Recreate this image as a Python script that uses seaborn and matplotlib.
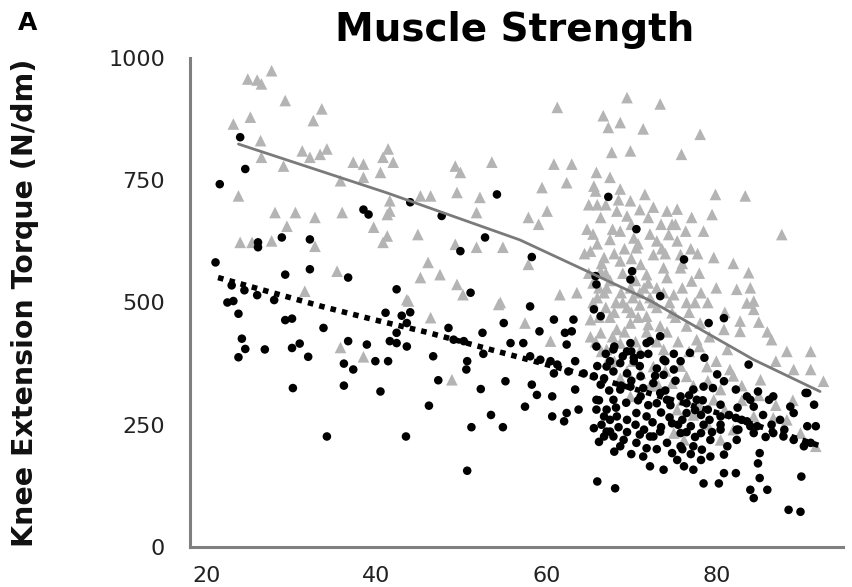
import matplotlib
matplotlib.use("Agg")
import matplotlib.pyplot as plt
import seaborn as sns
import pandas as pd

# ---------------- data ----------------
men_age = [
    27.7, 24.9, 26.0, 26.5, 29.3, 33.6, 32.6, 25.2, 23.2, 26.4, 26.5, 29.1, 31.3, 32.2, 33.4, 34.2,
    37.3, 38.5, 41.4, 40.8, 42.0, 40.5, 38.5, 35.8, 49.3, 49.9, 53.6, 23.8, 41.6, 41.6, 41.3, 45.2,
    46.4, 49.5, 52.2, 28.1, 30.5, 32.8, 36.0, 29.5, 39.7, 41.3, 40.8, 44.9, 51.8, 24.0, 25.4, 27.7,
    32.8, 49.3, 51.8, 54.9, 46.1, 45.2, 47.5, 49.5, 35.4, 31.6, 43.6, 50.2, 54.6,
    35.8, 38.5, 46.4, 48.9, 54.4, 43.8,
    61.3, 69.5, 73.4, 66.7, 68.7, 67.3, 71.4, 78.1, 67.7, 69.9, 75.9, 60.9, 63.0, 62.4, 59.5, 65.9,
    67.5, 65.6, 65.8, 68.7, 71.6, 69.9, 79.9, 83.4, 60.1, 57.9, 59.1, 66.4, 68.3, 69.5, 72.0, 72.6,
    74.2, 75.4, 77.1, 79.5, 75.2, 78.5, 76.4, 74.4, 68.7, 70.3, 67.5, 73.0, 75.4, 87.7, 65.2, 70.6,
    72.6, 75.8, 79.7, 66.8, 68.7, 71.1, 73.8, 75.8, 66.4, 71.8, 74.2, 83.8, 77.1, 82.4, 84.0, 61.6,
    63.6, 67.1, 69.9, 73.0, 75.0, 57.9, 84.4,
    83.6, 84.4, 82.8, 82.8, 86.5, 88.3, 91.1, 91.1, 92.6, 89.1, 85.2, 81.6, 60.5, 57.5, 66.4, 68.3,
    69.9, 71.8, 73.4, 74.8, 76.5, 77.7, 67.1, 68.7, 71.1, 72.6, 68.7, 69.9, 74.8, 76.5, 75.4, 77.3,
    79.7, 80.5, 75.0, 76.2, 80.5, 84.4, 86.7, 88.3, 91.7, 78.1, 80.9, 65.2, 73.8, 78.9, 81.3, 89.9,
    65.5, 66.0, 66.5, 67.0, 67.5, 68.0, 69.0, 70.0, 70.5, 71.0, 72.0, 72.5, 69.0, 67.0, 66.0, 68.0,
    70.0, 71.0, 72.0, 65.5, 66.0, 67.0, 68.5, 70.0, 71.0, 73.5, 74.0, 76.0, 77.0, 78.0, 76.5, 79.0,
    80.0, 81.0, 82.0, 85.0, 86.0, 87.0, 65.8, 67.2, 70.2, 73.2, 76.0, 78.0, 81.0, 83.0, 85.0, 87.0,
    89.0, 82.0, 79.0,
    64.5, 65.0, 65.5, 66.2, 66.8, 67.5, 68.2, 68.8, 69.5, 70.2, 70.8, 71.5, 72.2, 73.0, 73.8, 74.5,
    75.2, 76.0, 76.8, 77.5, 78.2, 65.2, 66.5, 67.8, 69.2, 70.5, 71.8, 73.0, 74.2, 75.5, 76.8, 78.0,
    79.2, 68.0, 69.5, 71.0, 72.2, 74.0, 75.8, 77.3, 79.0, 80.0, 82.0, 83.0, 70.8, 72.2, 73.6, 67.8,
    69.2, 74.8, 77.8, 64.8, 65.0, 66.2,
]
men_torque = [
    974, 957, 955, 947, 913, 896, 872, 879, 865, 831, 797, 779, 810, 797, 803, 814,
    787, 783, 814, 797, 787, 766, 756, 749, 779, 766, 787, 718, 708, 687, 680, 718,
    718, 725, 715, 684, 684, 674, 684, 656, 654, 636, 623, 639, 684, 623, 623, 626,
    615, 619, 613, 613, 582, 551, 557, 537, 564, 523, 506, 516, 500,
    408, 389, 469, 342, 496, 503,
    899, 919, 906, 882, 868, 858, 855, 844, 807, 810, 803, 783, 783, 745, 735, 766,
    756, 738, 728, 732, 721, 708, 721, 718, 687, 674, 660, 674, 687, 677, 674, 695,
    687, 691, 674, 680, 660, 646, 646, 639, 646, 632, 629, 626, 626, 639, 605, 612,
    598, 598, 592, 592, 585, 578, 571, 571, 564, 557, 551, 561, 544, 527, 530, 516,
    520, 530, 530, 530, 516, 578, 503,
    499, 486, 462, 441, 424, 400, 400, 363, 339, 363, 342, 363, 421, 458, 438, 445,
    458, 472, 452, 479, 452, 424, 404, 417, 355, 369, 345, 308, 335, 349, 281, 270,
    301, 322, 233, 219, 219, 267, 264, 260, 206, 458, 445, 465, 404, 369, 404, 233,
    640, 620, 580, 560, 545, 600, 560, 590, 545, 520, 540, 500, 500, 490, 510, 480,
    480, 495, 455, 540, 700, 700, 710, 660, 690, 660, 600, 580, 610, 560, 500, 500,
    530, 480, 580, 460, 440, 380, 420, 380, 380, 330, 300, 290, 280, 300, 310, 290,
    300, 240, 250,
    600, 560, 500, 470, 520, 470, 500, 520, 490, 510, 470, 530, 510, 490, 520, 500,
    470, 530, 480, 500, 520, 430, 400, 430, 440, 420, 440, 420, 440, 420, 400, 410,
    430, 380, 360, 400, 330, 360, 370, 330, 340, 380, 350, 330, 620, 640, 610, 650,
    610, 660, 600, 650, 700, 530,
]

women_age = [
    24.0, 24.6, 21.6, 38.5, 39.1, 44.0, 47.7, 54.2, 52.8, 49.9, 28.9, 26.1, 26.1, 32.2, 21.1, 29.3,
    32.2, 36.7, 42.4, 51.1, 23.0, 24.5, 26.0, 28.0, 22.5,
    23.8, 24.2, 24.6, 23.8, 26.9, 29.3, 30.1, 30.1, 31.0, 32.0, 33.8, 30.2, 34.2, 36.7, 36.2, 37.3,
    36.2, 38.9, 39.9, 41.4, 40.5, 41.1, 43.0, 44.0, 43.6, 42.4, 41.6, 42.4, 43.6, 43.5, 46.7, 47.3,
    46.2, 48.5, 49.1, 50.3, 50.7, 50.6, 52.3, 50.7, 51.2, 53.5, 54.9, 55.2, 52.5, 52.6, 55.0, 55.8,
    23.2,
    67.3, 58.3, 70.6, 65.8, 65.9, 70.1, 69.9, 73.4, 76.2,
    58.1, 60.9, 63.2, 59.2, 62.2, 63.0, 57.3, 62.4, 58.1, 59.3, 60.5, 61.3, 62.6, 63.4, 64.4, 60.9,
    58.3, 58.9, 60.7, 57.5, 60.7, 62.1, 62.4, 63.8, 63.4, 66.0, 68.1, 65.6,
    65.6, 66.4, 67.1, 67.9, 68.7, 69.5, 70.3, 71.8, 69.9, 65.9, 67.9, 65.9, 67.1, 65.9, 67.9, 68.7,
    69.9, 71.1, 71.1, 72.6, 73.4, 74.2, 73.0, 66.8, 68.3, 69.5, 70.6, 71.8, 67.1, 67.9, 69.1, 68.7,
    70.6, 71.8, 72.6, 73.4, 74.2, 71.4, 72.2, 73.8, 75.4, 76.2, 77.3, 78.5, 80.3, 75.8, 77.3, 78.3,
    79.3, 80.9, 80.9, 74.8, 75.8, 77.0, 78.2, 79.3, 76.5, 78.2, 79.0, 80.5, 80.5, 82.4, 75.8, 76.5,
    77.3, 78.5, 77.7, 80.5, 82.3, 82.4, 83.6, 84.0, 84.4, 84.8, 86.7, 87.9, 89.1, 90.3, 91.1, 90.7,
    91.7, 91.5, 90.5, 88.7, 89.1, 86.7, 86.2, 84.0, 84.4, 83.6, 82.3, 80.9, 80.1, 79.6, 83.8, 84.9,
    85.1, 84.9, 85.1, 84.0, 86.0, 84.4, 88.5, 89.9, 90.0, 82.3, 80.9, 79.1, 76.9, 78.6, 75.8, 75.0,
    73.8, 73.8, 72.2, 71.1, 70.3, 67.5, 65.6, 66.4, 73.4, 69.5, 67.5, 66.8, 72.2, 74.8, 78.2, 82.6,
    81.3, 90.7,
    66.2, 66.8, 67.4, 68.2, 68.8, 69.4, 70.0, 70.8, 71.4, 72.0, 72.8, 73.5, 74.0, 74.6, 75.2, 76.0,
    76.8, 77.5, 78.4, 79.2, 66.0, 67.0, 68.0, 69.0, 70.0, 71.0, 72.0, 73.0, 74.0, 75.0, 66.5, 67.5,
    68.5, 69.5, 70.5, 71.5, 72.5, 73.5, 74.5, 75.5, 76.5, 77.5, 78.5, 79.5, 80.5, 81.5, 82.5, 83.0,
    85.5, 86.5, 87.5, 88.0, 85.8, 66.2, 68.0, 70.0, 71.0, 73.0, 76.0, 77.0,
]
women_torque = [
    838, 773, 742, 690, 680, 705, 677, 721, 633, 605, 633, 623, 613, 629, 582, 557,
    568, 551, 527, 520, 535, 525, 515, 505, 500,
    477, 426, 405, 388, 404, 464, 467, 407, 416, 389, 448, 325, 226, 421, 375, 363,
    330, 414, 380, 380, 318, 479, 473, 480, 458, 438, 421, 417, 410, 226, 390, 341,
    289, 448, 424, 421, 380, 363, 323, 156, 245, 270, 245, 339, 438, 395, 458, 417,
    503,
    716, 593, 650, 554, 537, 564, 547, 513, 588,
    492, 465, 465, 441, 438, 441, 417, 414, 390, 383, 380, 373, 359, 380, 355, 355,
    332, 311, 308, 287, 267, 257, 274, 281, 322, 134, 120, 243,
    349, 332, 369, 359, 376, 355, 380, 417, 417, 410, 404, 301, 281, 281, 301, 322,
    328, 308, 349, 335, 315, 301, 294, 267, 267, 260, 274, 267, 236, 226, 219, 206,
    213, 202, 226, 236, 213, 185, 165, 158, 178, 165, 158, 130, 130, 206, 206, 199,
    185, 189, 151, 253, 233, 247, 233, 219, 274, 270, 281, 267, 240, 219, 308, 294,
    322, 328, 301, 291, 264, 240, 257, 247, 233, 247, 233, 226, 219, 206, 213, 247,
    247, 291, 315, 287, 274, 308, 301, 301, 287, 308, 322, 339, 353, 325, 373, 318,
    192, 171, 141, 117, 117, 100, 76, 72, 144, 151, 468, 458, 397, 387, 380, 363,
    352, 383, 421, 393, 387, 380, 486, 472, 431, 400, 236, 226, 226, 192, 178, 240,
    206, 315,
    300, 345, 320, 285, 330, 295, 340, 300, 325, 290, 350, 275, 320, 290, 340, 260,
    310, 280, 300, 260, 370, 395, 410, 390, 400, 370, 395, 365, 380, 395, 250, 260,
    245, 235, 250, 240, 255, 245, 265, 250, 235, 225, 250, 235, 250, 270, 285, 260,
    270, 250, 260, 240, 225, 215, 195, 190, 230, 200, 200, 190,
]

# fitted curves
men_fit_age = [23.8, 41.3, 56.9, 72.2, 84.4, 92.2]
men_fit_torque = [824, 724, 628, 504, 383, 318]
women_fit_age = [21.4, 33.6, 39.7, 46.0, 53.4, 65.0, 80.0, 92.0]
women_fit_torque = [551, 492, 465, 439, 404, 350, 275, 208]

x_ticks = [20, 40, 60, 80]
y_ticks = [0, 250, 500, 750, 1000]

title_text = "Muscle Strength"
panel_label = "A"
y_label = "Knee Extension Torque (N/dm)"

# ---------------- plot ----------------
sns.set_style("white")
plt.rcParams["font.family"] = ["DejaVu Sans"]

men = pd.DataFrame({"age": men_age, "torque": men_torque})
women = pd.DataFrame({"age": women_age, "torque": women_torque})
men_fit = pd.DataFrame({"age": men_fit_age, "torque": men_fit_torque})
women_fit = pd.DataFrame({"age": women_fit_age, "torque": women_fit_torque})

fig = plt.figure(figsize=(8.52, 5.87), dpi=100)
ax = fig.add_axes([190 / 852, 40 / 587, 653 / 852, 489 / 587])

sns.scatterplot(data=men, x="age", y="torque", marker="^", s=70, color="#b4b4b4",
                edgecolor="none", linewidth=0, ax=ax, zorder=2)
sns.scatterplot(data=women, x="age", y="torque", marker="o", s=38, color="#000000",
                edgecolor="none", linewidth=0, ax=ax, zorder=3)
sns.lineplot(data=men_fit, x="age", y="torque", color="#7a7a7a", linewidth=2.0,
             estimator=None, sort=False, ax=ax, zorder=4)
sns.lineplot(data=women_fit, x="age", y="torque", color="#000000", linewidth=4.0,
             linestyle=(0, (1, 1.1)), estimator=None, sort=False, ax=ax, zorder=4)

ax.set_xlim(18.1, 94.9)
ax.set_ylim(0, 1000)
ax.set_xticks(x_ticks)
ax.set_yticks(y_ticks)
ax.set_xlabel("")
ax.set_ylabel(y_label, fontsize=20.5, fontweight="bold", color="#111111")
ax.yaxis.set_label_coords(-0.232, 0.5)

for side in ["top", "right"]:
    ax.spines[side].set_visible(False)
for side in ["left", "bottom"]:
    ax.spines[side].set_color("#808080")
    ax.spines[side].set_linewidth(2.2)

ax.tick_params(axis="y", length=6, width=1.3, color="#808080", pad=12,
               labelsize=16, labelcolor="#222222")
ax.tick_params(axis="x", length=5, width=1.3, color="#808080", pad=9,
               labelsize=16, labelcolor="#222222")

fig.text(515 / 852, 1 - 30 / 587, title_text, fontsize=28, fontweight="bold",
         ha="center", va="center", color="#000000")
fig.text(18 / 852, 1 - 23 / 587, panel_label, fontsize=18, fontweight="bold",
         ha="left", va="center", color="#000000")

fig.savefig("out.png", dpi=100, facecolor="white")
